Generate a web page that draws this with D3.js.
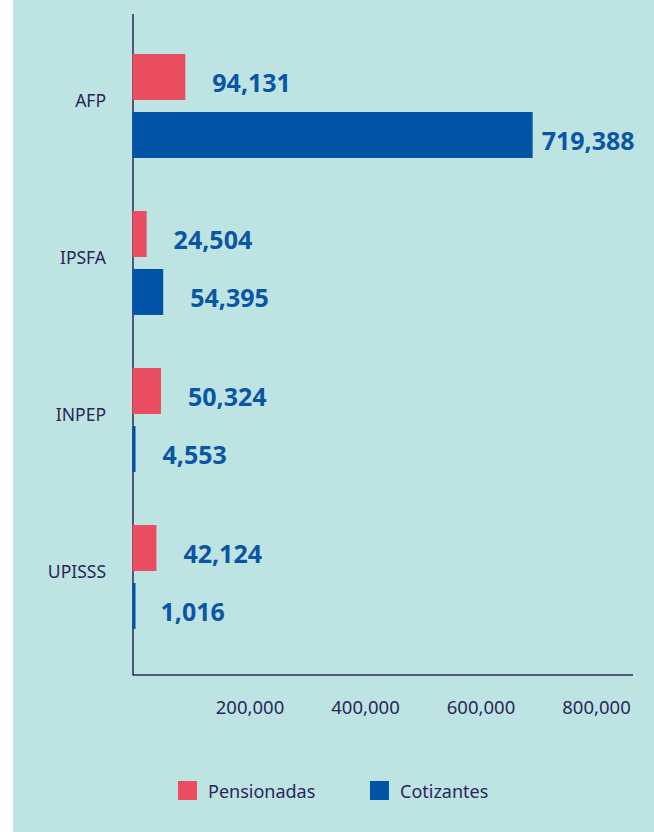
<html>
  <head>
    <meta charset="UTF-8" />
    <script src="https://cdnjs.cloudflare.com/ajax/libs/d3/7.8.5/d3.min.js"></script>
    <style>
      body { margin: 0; background: #fff; }
      text { font-family: "Noto Sans", "Open Sans", sans-serif; }
    </style>
  </head>
  <body>
    <div id="viz"><svg width="654" height="832"></svg></div>
    <script>
      // data
      const categories = ["AFP", "IPSFA", "INPEP", "UPISSS"];
      const series = ["Pensionadas", "Cotizantes"];
      const pensionadas = [94131, 24504, 50324, 42124];
      const cotizantes = [719388, 54395, 4553, 1016];
      const tickValues = [200000, 400000, 600000, 800000];

      const colors = { Pensionadas: "#ea4d60", Cotizantes: "#0053a5" };
      const ink = "#29275a";

      const rows = categories.map((c, i) => ({
        cat: c,
        vals: [
          { key: "Pensionadas", value: pensionadas[i] },
          { key: "Cotizantes", value: cotizantes[i] }
        ]
      }));

      const svg = d3.select("svg");

      svg.append("rect")
        .attr("x", 13).attr("y", 0)
        .attr("width", 641).attr("height", 832)
        .style("fill", "#bee3e3");

      const x = d3.scaleLinear().domain([0, 900000]).range([133, 633]);
      // tick labels in the original sit on a slightly wider spacing than the bars
      const xt = d3.scaleLinear().domain([0, 800000]).range([134, 596]);

      const y = d3.scaleBand()
        .domain(categories)
        .range([27.5, 655.5])
        .paddingInner(0.338)
        .paddingOuter(0.169);

      const yInner = d3.scaleBand()
        .domain(series)
        .range([0, y.bandwidth()])
        .paddingInner(0.207);

      // axes lines (under the bars)
      svg.append("line")
        .attr("x1", x(0)).attr("x2", x(0))
        .attr("y1", 14).attr("y2", 675.5)
        .style("stroke", ink).style("stroke-width", 1.5);

      svg.append("line")
        .attr("x1", x(0)).attr("x2", x.range()[1])
        .attr("y1", 675).attr("y2", 675)
        .style("stroke", ink).style("stroke-width", 1.5);

      const groups = svg.selectAll(".grp")
        .data(rows)
        .enter()
        .append("g")
        .attr("class", "grp")
        .attr("transform", d => `translate(0, ${y(d.cat)})`);

      // tiny values still get a sliver so they stay visible next to the axis
      groups.selectAll("rect")
        .data(d => d.vals)
        .enter()
        .append("rect")
        .attr("x", x(0) - 0.5)
        .attr("y", d => yInner(d.key))
        .attr("width", d => Math.max(x(d.value) - x(0) + 0.5, 3))
        .attr("height", yInner.bandwidth())
        .style("fill", d => colors[d.key]);

      const fmt = d3.format(",");

      groups.selectAll(".val")
        .data(d => d.vals)
        .enter()
        .append("text")
        .attr("class", "val")
        .attr("x", d => {
          const tx = x(d.value) + 27;
          return tx + 100 > 654 ? x(d.value) + 9 : tx;
        })
        .attr("y", d => yInner(d.key) + yInner.bandwidth() / 2 + 5)
        .attr("dominant-baseline", "central")
        .style("font-size", "25px")
        .style("font-weight", 700)
        .style("fill", "#0b55a6")
        .text(d => fmt(d.value));

      groups.append("text")
        .attr("x", 106)
        .attr("y", 46)
        .attr("text-anchor", "end")
        .attr("dominant-baseline", "central")
        .style("font-size", "17.5px")
        .style("fill", ink)
        .text(d => d.cat);

      const xAxis = svg.append("g")
        .attr("transform", "translate(0, 675)")
        .call(d3.axisBottom(xt).tickValues(tickValues).tickSize(0).tickPadding(26).tickFormat(fmt));
      xAxis.select(".domain").remove();
      xAxis.selectAll("text")
        .style("font-family", "'Noto Sans', sans-serif")
        .style("font-size", "18.5px")
        .style("fill", ink);

      // legend
      const legendX = { Pensionadas: 178, Cotizantes: 370 };
      const legend = svg.selectAll(".leg")
        .data(series)
        .enter()
        .append("g")
        .attr("class", "leg")
        .attr("transform", d => `translate(${legendX[d]}, 781)`);

      legend.append("rect")
        .attr("width", 19).attr("height", 19)
        .style("fill", d => colors[d]);

      legend.append("text")
        .attr("x", 30)
        .attr("y", 10)
        .attr("dominant-baseline", "central")
        .style("font-size", "18px")
        .style("fill", ink)
        .text(d => d);
    </script>
  </body>
</html>
